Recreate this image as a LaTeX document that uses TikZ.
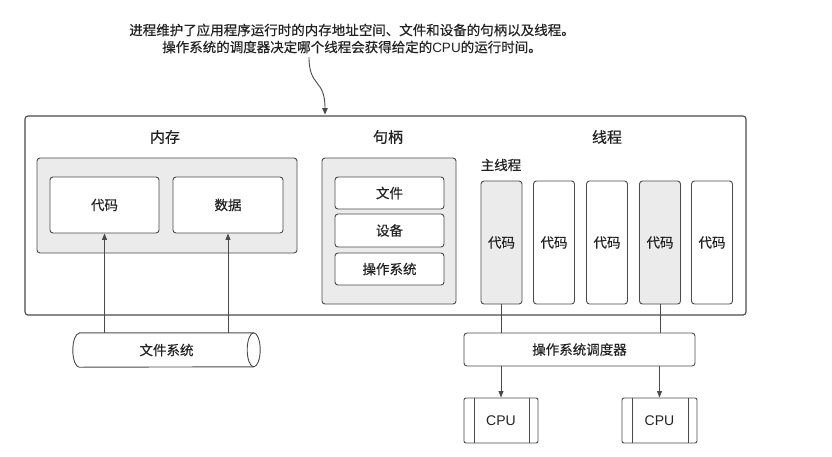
\documentclass[tikz,border=0pt]{standalone}
\usepackage{fontspec}
\newfontfamily\cjk[FakeBold=0.35]{Noto Sans CJK SC}
\newfontfamily\lat{Liberation Sans}
\usetikzlibrary{arrows.meta}
\definecolor{linec}{HTML}{4A4A4A}
\definecolor{boxfill}{HTML}{EBEBEB}
\definecolor{textc}{HTML}{222222}
\tikzset{
  txt/.style={font=\cjk\fontsize{13.5}{17}\selectfont, text=textc},
  headtxt/.style={font=\cjk\fontsize{15}{18}\selectfont, text=textc},
  outerbox/.style={draw=linec, line width=1.1pt, rounded corners=3pt, inner sep=0pt,
    minimum width=721pt, minimum height=199pt},
  graybox/.style={draw=linec, fill=boxfill, line width=0.9pt, rounded corners=3pt, inner sep=0pt, txt},
  whitebox/.style={draw=linec, fill=white, line width=0.9pt, rounded corners=3pt, inner sep=0pt, txt},
  memitem/.style={whitebox, minimum width=109pt, minimum height=56pt},
  handitem/.style={whitebox, minimum width=109pt, minimum height=32pt},
  thread/.style={whitebox, minimum width=41pt, minimum height=123pt},
  gthread/.style={graybox, minimum width=41pt, minimum height=123pt},
  cpubox/.style={whitebox, minimum width=74pt, minimum height=45pt, rounded corners=2pt,
    font=\lat\fontsize{14}{16}\selectfont,
    path picture={\draw[linec, line width=0.9pt]
      ([xshift=10pt]path picture bounding box.north west) -- ([xshift=10pt]path picture bounding box.south west)
      ([xshift=-9pt]path picture bounding box.north east) -- ([xshift=-9pt]path picture bounding box.south east);}},
  conn/.style={draw=linec, line width=0.9pt},
  arr/.style={conn, -{Triangle[length=6.5pt, width=5pt]}},
}
\begin{document}
\begin{tikzpicture}[x=1pt, y=-1pt]
  \useasboundingbox[fill=white] (0,0) rectangle (832,456);

  % caption
  \node[txt, align=center] (cap) at (352,38.5)
    {进程维护了应用程序运行时的内存地址空间、文件和设备的句柄以及线程。\\
     操作系统的调度器决定哪个线程会获得给定的{\lat CPU}的运行时间。};

  % outer process box
  \node[outerbox] (proc) at (385.5,215.5) {};
  \coordinate (capstart) at (309,57);
  \coordinate (captip) at (325,114.5);
  \draw[conn, -{Triangle[length=6.5pt, width=5.5pt]}] (capstart) .. controls (309,88) and (325,78) .. (captip);

  % headings
  \node[headtxt] (hmem) at (165,137) {内存};
  \node[headtxt] (hhand) at (388,137) {句柄};
  \node[headtxt] (hthr) at (607,137) {线程};
  \node[txt] (hmain) at (501,165) {主线程};

  % memory
  \node[graybox, minimum width=260pt, minimum height=95pt] (mem) at (167,205.5) {};
  \node[memitem] (code) at (104.5,205) {代码};
  \node[memitem, minimum width=110pt] (data) at (228,205) {数据};

  % handles
  \node[graybox, minimum width=134pt, minimum height=146pt] (hand) at (389,231) {};
  \node[handitem] (hfile) at (389.5,193) {文件};
  \node[handitem, minimum height=33pt] (hdev) at (389.5,230.5) {设备};
  \node[handitem] (hos) at (389.5,269) {操作系统};

  % threads
  \node[gthread] (t1) at (501.5,242.5) {代码};
  \node[thread]  (t2) at (554,242.5) {代码};
  \node[thread]  (t3) at (607,242.5) {代码};
  \node[gthread] (t4) at (660,242.5) {代码};
  \node[thread]  (t5) at (712,242.5) {代码};

  % file system cylinder
  \node[txt, minimum width=187pt, minimum height=34pt, inner sep=0pt] (fs) at (166.5,350) {文件系统};
  \draw[linec, line width=0.9pt]
    ([xshift=6.5pt]fs.north west) -- ([xshift=-6.5pt]fs.north east)
    arc[start angle=90, end angle=-90, x radius=6.5pt, y radius=17pt]
    -- ([xshift=6.5pt]fs.south west)
    arc[start angle=270, end angle=90, x radius=6.5pt, y radius=17pt] -- cycle;
  \draw[linec, line width=0.9pt]
    ([xshift=-6.5pt]fs.north east) arc[start angle=90, end angle=270, x radius=6.5pt, y radius=17pt];

  % scheduler
  \node[whitebox, minimum width=231pt, minimum height=33pt] (sched) at (579.5,349.5) {操作系统调度器};

  % CPUs
  \node[cpubox] (cpu1) at (501,420.5) {CPU};
  \node[cpubox, minimum width=75pt] (cpu2) at (659.5,420.5) {CPU};

  % connectors
  \draw[arr] (fs.north -| code.south) -- (code.south);
  \draw[arr] (fs.north -| data.south) -- (data.south);
  \draw[conn] (t1.south) -- (t1.south |- sched.north);
  \draw[conn] (t4.south) -- (t4.south |- sched.north);
  \draw[arr] (sched.south -| cpu1.north) -- (cpu1.north);
  \draw[arr] (sched.south -| cpu2.north) -- (cpu2.north);
\end{tikzpicture}
\end{document}
